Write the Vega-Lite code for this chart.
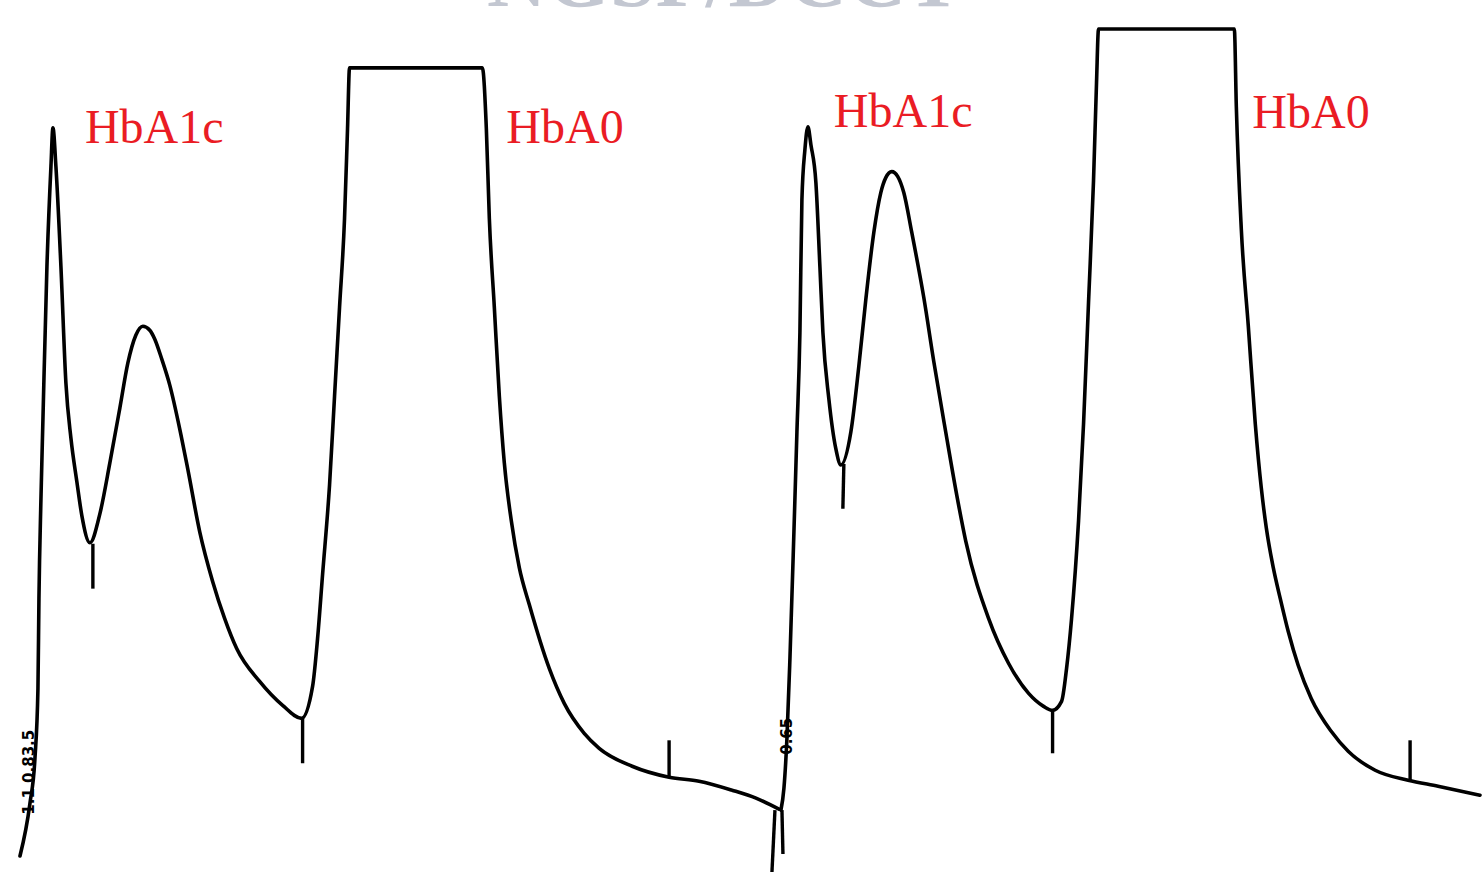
{
  "$schema": "https://vega.github.io/schema/vega-lite/v6.json",
  "width": 1482,
  "height": 874,
  "autosize": {"type": "fit", "contains": "padding"},
  "padding": 0,
  "background": "white",
  "config": {"view": {"stroke": null}},
  "datasets": {
    "trace": [
      {"run": "A", "time": 20, "signal": 16},
      {"run": "A", "time": 30, "signal": 69},
      {"run": "A", "time": 35, "signal": 114},
      {"run": "A", "time": 38, "signal": 184},
      {"run": "A", "time": 39, "signal": 274},
      {"run": "A", "time": 41, "signal": 374},
      {"run": "A", "time": 43, "signal": 454},
      {"run": "A", "time": 47, "signal": 607},
      {"run": "A", "time": 51, "signal": 707},
      {"run": "A", "time": 53, "signal": 746},
      {"run": "A", "time": 56, "signal": 707},
      {"run": "A", "time": 61, "signal": 607},
      {"run": "A", "time": 66, "signal": 490},
      {"run": "A", "time": 71, "signal": 435},
      {"run": "A", "time": 77, "signal": 391},
      {"run": "A", "time": 82, "signal": 357},
      {"run": "A", "time": 90, "signal": 330},
      {"run": "A", "time": 100, "signal": 359},
      {"run": "A", "time": 110, "signal": 410},
      {"run": "A", "time": 120, "signal": 465},
      {"run": "A", "time": 128, "signal": 510},
      {"run": "A", "time": 136, "signal": 538},
      {"run": "A", "time": 143, "signal": 547},
      {"run": "A", "time": 150, "signal": 543},
      {"run": "A", "time": 155, "signal": 534},
      {"run": "A", "time": 162, "signal": 514},
      {"run": "A", "time": 170, "signal": 488},
      {"run": "A", "time": 180, "signal": 444},
      {"run": "A", "time": 188, "signal": 404},
      {"run": "A", "time": 200, "signal": 341},
      {"run": "A", "time": 213, "signal": 291},
      {"run": "A", "time": 225, "signal": 254},
      {"run": "A", "time": 237, "signal": 224},
      {"run": "A", "time": 260, "signal": 191},
      {"run": "A", "time": 283, "signal": 167},
      {"run": "A", "time": 302, "signal": 154},
      {"run": "A", "time": 313, "signal": 186},
      {"run": "A", "time": 318, "signal": 234},
      {"run": "A", "time": 323, "signal": 298},
      {"run": "A", "time": 330, "signal": 388},
      {"run": "A", "time": 335, "signal": 477},
      {"run": "A", "time": 340, "signal": 566},
      {"run": "A", "time": 345, "signal": 655},
      {"run": "A", "time": 348, "signal": 745},
      {"run": "A", "time": 350, "signal": 806},
      {"run": "A", "time": 483, "signal": 806},
      {"run": "A", "time": 487, "signal": 745},
      {"run": "A", "time": 490, "signal": 655},
      {"run": "A", "time": 495, "signal": 566},
      {"run": "A", "time": 500, "signal": 477},
      {"run": "A", "time": 505, "signal": 410},
      {"run": "A", "time": 512, "signal": 352},
      {"run": "A", "time": 520, "signal": 305},
      {"run": "A", "time": 530, "signal": 268},
      {"run": "A", "time": 550, "signal": 204},
      {"run": "A", "time": 565, "signal": 169},
      {"run": "A", "time": 585, "signal": 139},
      {"run": "A", "time": 600, "signal": 124},
      {"run": "A", "time": 633, "signal": 106},
      {"run": "A", "time": 670, "signal": 95},
      {"run": "A", "time": 700, "signal": 91},
      {"run": "A", "time": 733, "signal": 82},
      {"run": "A", "time": 757, "signal": 74},
      {"run": "A", "time": 780, "signal": 63},
      {"run": "B", "time": 782, "signal": 62},
      {"run": "B", "time": 785, "signal": 84},
      {"run": "B", "time": 788, "signal": 134},
      {"run": "B", "time": 791, "signal": 214},
      {"run": "B", "time": 795, "signal": 341},
      {"run": "B", "time": 798, "signal": 441},
      {"run": "B", "time": 801, "signal": 541},
      {"run": "B", "time": 803, "signal": 674},
      {"run": "B", "time": 806, "signal": 724},
      {"run": "B", "time": 809, "signal": 747},
      {"run": "B", "time": 812, "signal": 729},
      {"run": "B", "time": 817, "signal": 691},
      {"run": "B", "time": 821, "signal": 607},
      {"run": "B", "time": 824, "signal": 541},
      {"run": "B", "time": 830, "signal": 474},
      {"run": "B", "time": 837, "signal": 424},
      {"run": "B", "time": 842, "signal": 408},
      {"run": "B", "time": 852, "signal": 441},
      {"run": "B", "time": 860, "signal": 507},
      {"run": "B", "time": 867, "signal": 574},
      {"run": "B", "time": 875, "signal": 641},
      {"run": "B", "time": 882, "signal": 681},
      {"run": "B", "time": 887, "signal": 696},
      {"run": "B", "time": 893, "signal": 702},
      {"run": "B", "time": 899, "signal": 697},
      {"run": "B", "time": 905, "signal": 681},
      {"run": "B", "time": 913, "signal": 641},
      {"run": "B", "time": 925, "signal": 576},
      {"run": "B", "time": 935, "signal": 512},
      {"run": "B", "time": 947, "signal": 441},
      {"run": "B", "time": 958, "signal": 378},
      {"run": "B", "time": 967, "signal": 332},
      {"run": "B", "time": 990, "signal": 254},
      {"run": "B", "time": 1010, "signal": 209},
      {"run": "B", "time": 1030, "signal": 179},
      {"run": "B", "time": 1045, "signal": 166},
      {"run": "B", "time": 1054, "signal": 162},
      {"run": "B", "time": 1063, "signal": 171},
      {"run": "B", "time": 1068, "signal": 204},
      {"run": "B", "time": 1073, "signal": 254},
      {"run": "B", "time": 1080, "signal": 352},
      {"run": "B", "time": 1085, "signal": 449},
      {"run": "B", "time": 1090, "signal": 571},
      {"run": "B", "time": 1095, "signal": 693},
      {"run": "B", "time": 1098, "signal": 791},
      {"run": "B", "time": 1100, "signal": 845},
      {"run": "B", "time": 1236, "signal": 845},
      {"run": "B", "time": 1238, "signal": 767},
      {"run": "B", "time": 1243, "signal": 644},
      {"run": "B", "time": 1250, "signal": 547},
      {"run": "B", "time": 1257, "signal": 449},
      {"run": "B", "time": 1263, "signal": 385},
      {"run": "B", "time": 1268, "signal": 345},
      {"run": "B", "time": 1275, "signal": 305},
      {"run": "B", "time": 1282, "signal": 274},
      {"run": "B", "time": 1290, "signal": 241},
      {"run": "B", "time": 1300, "signal": 207},
      {"run": "B", "time": 1313, "signal": 174},
      {"run": "B", "time": 1333, "signal": 141},
      {"run": "B", "time": 1350, "signal": 121},
      {"run": "B", "time": 1377, "signal": 102},
      {"run": "B", "time": 1410, "signal": 92},
      {"run": "B", "time": 1440, "signal": 86},
      {"run": "B", "time": 1482, "signal": 77}
    ],
    "cuts": [
      {"time": 93, "time2": 93, "lo": 284, "hi": 329},
      {"time": 303, "time2": 303, "lo": 109, "hi": 154},
      {"time": 670, "time2": 670, "lo": 95, "hi": 132},
      {"time": 844, "time2": 845, "lo": 364, "hi": 409},
      {"time": 1054, "time2": 1054, "lo": 119, "hi": 162},
      {"time": 1412, "time2": 1412, "lo": 92, "hi": 132},
      {"time": 776, "time2": 773, "lo": 62, "hi": 0},
      {"time": 783, "time2": 784, "lo": 62, "hi": 18}
    ],
    "peaks": [
      {"name": "HbA1c", "time": 85, "signal": 731},
      {"name": "HbA0", "time": 507, "signal": 731},
      {"name": "HbA1c", "time": 835, "signal": 747},
      {"name": "HbA0", "time": 1254, "signal": 746}
    ],
    "stamps": [
      {"txt": "1.1  0.83.5", "time": 29, "signal": 100},
      {"txt": "0.65", "time": 788, "signal": 136}
    ],
    "mark": [
      {"txt": "NGSP/DCCT", "time": 725, "signal": 868}
    ]
  },
  "layer": [
    {
      "data": {"name": "mark"},
      "mark": {"type": "text", "clip": true, "font": "Liberation Serif", "fontSize": 82, "fontWeight": "bold", "color": "#c3c7d1", "align": "center", "baseline": "alphabetic", "letterSpacing": 4},
      "encoding": {
        "x": {"field": "time", "type": "quantitative", "scale": {"domain": [0, 1482], "nice": false, "zero": false}, "axis": null},
        "y": {"field": "signal", "type": "quantitative", "scale": {"domain": [0, 874], "nice": false, "zero": false}, "axis": null},
        "text": {"field": "txt"}
      }
    },
    {
      "data": {"name": "trace"},
      "mark": {"type": "line", "color": "black", "strokeWidth": 3.6, "strokeJoin": "round", "strokeCap": "round", "interpolate": "monotone"},
      "encoding": {
        "x": {"field": "time", "type": "quantitative"},
        "y": {"field": "signal", "type": "quantitative"},
        "detail": {"field": "run"}
      }
    },
    {
      "data": {"name": "cuts"},
      "mark": {"type": "rule", "color": "black", "strokeWidth": 3.4},
      "encoding": {
        "x": {"field": "time", "type": "quantitative"},
        "x2": {"field": "time2"},
        "y": {"field": "lo", "type": "quantitative"},
        "y2": {"field": "hi"}
      }
    },
    {
      "data": {"name": "stamps"},
      "mark": {"type": "text", "font": "DejaVu Sans", "fontSize": 15, "fontWeight": "bold", "color": "black", "angle": 270, "align": "center", "baseline": "middle"},
      "encoding": {
        "x": {"field": "time", "type": "quantitative"},
        "y": {"field": "signal", "type": "quantitative"},
        "text": {"field": "txt"}
      }
    },
    {
      "data": {"name": "peaks"},
      "mark": {"type": "text", "font": "Liberation Serif", "fontSize": 48, "color": "#ea1c24", "align": "left", "baseline": "alphabetic"},
      "encoding": {
        "x": {"field": "time", "type": "quantitative"},
        "y": {"field": "signal", "type": "quantitative"},
        "text": {"field": "name"}
      }
    }
  ]
}
